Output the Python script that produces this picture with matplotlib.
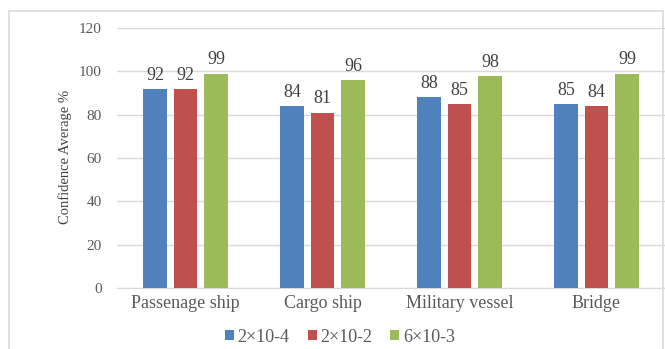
import numpy as np
import matplotlib.pyplot as plt
from matplotlib.patches import Rectangle

categories = ["Passenage ship", "Cargo ship", "Military vessel", "Bridge"]
series_names = ["2×10-4", "2×10-2", "6×10-3"]
vals_a = [92, 84, 88, 85]
vals_b = [92, 81, 85, 84]
vals_c = [99, 96, 98, 99]
colors = ["#4F81BD", "#C0504D", "#9BBB59"]

plt.rcParams["font.family"] = ["Liberation Serif", "DejaVu Serif"]

W, H = 665, 349
fig = plt.figure(figsize=(W / 100, H / 100), dpi=100)
ax = fig.add_axes([117 / W, 1 - 288 / H, 548 / W, 260 / H])

# light frame around the chart area (its right edge clips the plot)
frame = Rectangle((9 / W, -0.01), 654 / W, 1 - 10.5 / H + 0.01,
                  transform=fig.transFigure, fill=False,
                  edgecolor="#D9D9D9", linewidth=1.2, zorder=10)
fig.patches.append(frame)

x = np.arange(len(categories))
width = 0.175
step = 0.223
for i, (vals, name) in enumerate(zip([vals_a, vals_b, vals_c], series_names)):
    pos = x + (i - 1) * step
    bars = ax.bar(pos, vals, width, color=colors[i], label=name, zorder=3)
    for b, v in zip(bars, vals):
        ax.text(b.get_x() + b.get_width() / 2, v + 4.2, str(v),
                ha="center", va="baseline", fontsize=13, color="#404040")

ax.set_xlim(-0.5, 3.5)
ax.set_ylim(0, 120)
ax.set_yticks(range(0, 121, 20))
ax.yaxis.grid(True, color="#D9D9D9", linewidth=1, zorder=0)
for s in ["top", "right", "left"]:
    ax.spines[s].set_visible(False)
ax.spines["bottom"].set_color("#D9D9D9")
ax.tick_params(axis="both", length=0, colors="#595959")
ax.tick_params(axis="y", labelsize=11, pad=11)
ax.tick_params(axis="x", labelsize=13, pad=5)
ax.set_xticks(x)
ax.set_xticklabels(categories)

fig.text(65 / W, 1 - 157 / H, "Confidence Average %", rotation=90,
         ha="center", va="center", fontsize=10.5, color="#404040")

ax.legend(loc="center", bbox_to_anchor=(340 / W, 1 - 337 / H),
          bbox_transform=fig.transFigure, ncol=3, frameon=False,
          fontsize=13, handlelength=0.5, handleheight=0.5, handletextpad=0.2,
          columnspacing=1.0, labelcolor="#595959", borderpad=0)

fig.savefig("out.png", dpi=100)
